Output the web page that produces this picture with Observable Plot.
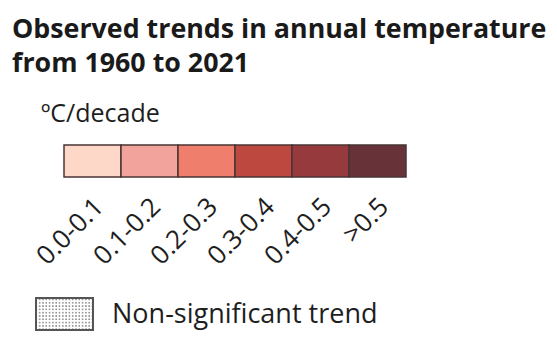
<!DOCTYPE html>
<html>
<head>
<meta charset="utf-8">
<script src="https://cdn.jsdelivr.net/npm/d3@7"></script>
<script src="https://cdn.jsdelivr.net/npm/@observablehq/plot@0.6"></script>
<style>
  html, body { margin: 0; padding: 0; background: #fff; }
  #chart { width: 557px; height: 340px; overflow: hidden; font-family: "Open Sans", sans-serif; }
  #title { margin: 0; padding: 11px 0 0 12px; height: 69px; font-size: 26.8px; line-height: 34px; font-weight: 700; color: #1a1a1a; white-space: nowrap; }
  svg { display: block; }
</style>
</head>
<body>
<div id="chart">
  <div id="title">Observed trends in annual temperature<br>from 1960 to 2021</div>
</div>
<script>
const titleText = "Observed trends in annual temperature from 1960 to 2021";
const unitLabel = "ºC/decade";
const classes = ["0.0-0.1", "0.1-0.2", "0.2-0.3", "0.3-0.4", "0.4-0.5", ">0.5"];
const classColors = ["#fdd8c8", "#f2a39b", "#f07e6d", "#bd4840", "#963a3d", "#673238"];
const nonSigLabel = "Non-significant trend";

const rows = ["bar", "ns"];
const legend = classes.map(c => ({cls: c, row: "bar"}));
const nonSig = [{cls: classes[0], row: "ns", label: nonSigLabel}];

const plot = Plot.plot({
  width: 557,
  height: 260,
  margin: 0,
  style: {fontFamily: "Open Sans", color: "#222", background: "transparent"},
  x: {type: "band", domain: classes, range: [61, 408], padding: 0, axis: null},
  y: {type: "band", domain: rows, range: [65, 250], paddingInner: 0.791, paddingOuter: 0, axis: null},
  color: {type: "ordinal", domain: classes, range: classColors},
  marks: [
    Plot.cell(legend, {x: "cls", y: "row", fill: "cls", stroke: "#4a3434", strokeWidth: 1.5}),
    Plot.text(legend, {x: "cls", y: "row", text: "cls", rotate: -45, textAnchor: "end", lineAnchor: "bottom",
      dx: 12, dy: 47, fontSize: 26, fill: "#1e1e1e"}),
    Plot.text([unitLabel], {x: () => classes[0], y: () => "bar", text: d => d, textAnchor: "start", lineAnchor: "bottom",
      dx: -52, dy: -40, fontSize: 25, fill: "#1e1e1e"}),
    Plot.cell(nonSig, {x: "cls", y: "row", dx: -28, fill: "url(#nsdots)", stroke: "#555", strokeWidth: 2}),
    Plot.text(nonSig, {x: "cls", y: "row", text: "label", textAnchor: "start", lineAnchor: "bottom",
      dx: 19, dy: 8, fontSize: 27, fill: "#1e1e1e"})
  ]
});

const svg = d3.select(plot);
const defs = svg.insert("defs", ":first-child");
const pat = defs.append("pattern").attr("id", "nsdots").attr("patternUnits", "userSpaceOnUse")
  .attr("width", 3.3).attr("height", 3.3);
pat.append("rect").attr("width", 3.3).attr("height", 3.3).attr("fill", "#fff");
pat.append("rect").attr("x", 1).attr("y", 1).attr("width", 1.4).attr("height", 1.4).attr("fill", "#707070");

document.getElementById("chart").appendChild(plot);
</script>
</body>
</html>
